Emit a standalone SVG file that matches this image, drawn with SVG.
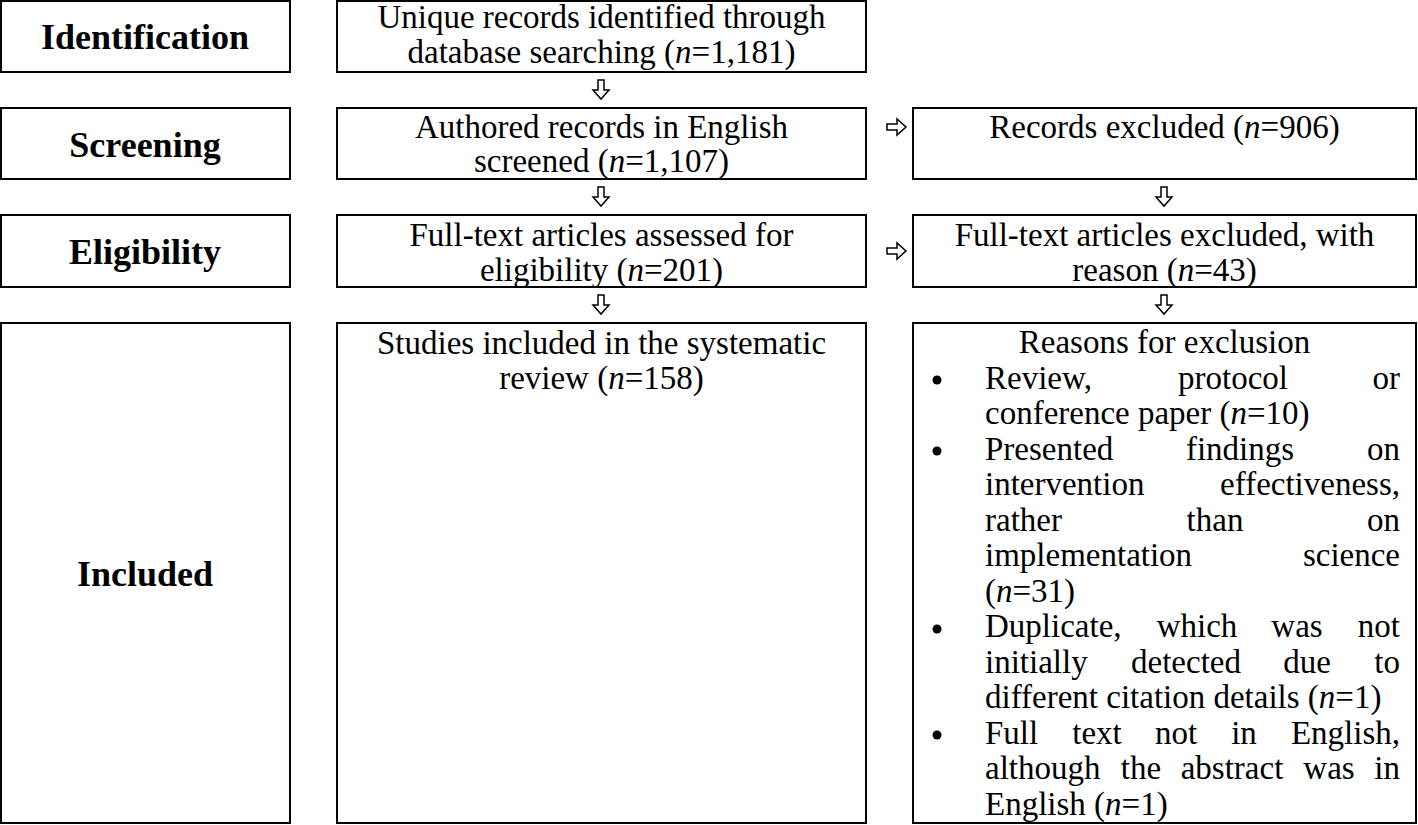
<svg xmlns="http://www.w3.org/2000/svg" width="1418" height="825" viewBox="0 0 1418 825">
<style>
.box{fill:#fff;stroke:#000;stroke-width:2}
text{font-family:"Liberation Serif","Times New Roman",serif;font-size:33px;fill:#000}
.lab{font-weight:bold;font-size:36px;text-anchor:middle}
.c{text-anchor:middle}
.e{text-anchor:end}
.i{font-style:italic}
.arr{fill:#fff;stroke:#000;stroke-width:1.5;stroke-linejoin:miter}
</style>
<defs>
<path id="down" d="M-3,0 H3 V10 H8 L0,19 L-8,10 H-3 Z"/>
<path id="right" d="M0,-3 V3 H10 V8 L19,0 L10,-8 V-3 Z"/>
</defs>
<rect width="1418" height="825" fill="#fff"/>

<g id="label-identification">
<rect class="box" x="1" y="1" width="289" height="71"/>
<text class="lab" x="145" y="49">Identification</text>
</g>
<g id="label-screening">
<rect class="box" x="1" y="108" width="289" height="71"/>
<text class="lab" x="145" y="157">Screening</text>
</g>
<g id="label-eligibility">
<rect class="box" x="1" y="215" width="289" height="72"/>
<text class="lab" x="145" y="264">Eligibility</text>
</g>
<g id="label-included">
<rect class="box" x="1" y="323" width="289" height="500"/>
<text class="lab" x="145" y="586">Included</text>
</g>

<g id="node-identified">
<rect class="box" x="337" y="1" width="529" height="71"/>
<text class="c" x="601.5" y="28">Unique records identified through</text>
<text class="c" x="601.5" y="63">database searching (<tspan class="i">n</tspan>=1,181)</text>
</g>
<g id="node-screened">
<rect class="box" x="337" y="108" width="529" height="71"/>
<text class="c" x="601.5" y="138">Authored records in English</text>
<text class="c" x="601.5" y="172">screened (<tspan class="i">n</tspan>=1,107)</text>
</g>
<g id="node-excluded">
<rect class="box" x="913" y="108" width="503" height="71"/>
<text class="c" x="1164.5" y="138">Records excluded (<tspan class="i">n</tspan>=906)</text>
</g>
<g id="node-assessed">
<rect class="box" x="337" y="215" width="529" height="72"/>
<text class="c" x="601.5" y="246">Full-text articles assessed for</text>
<text class="c" x="601.5" y="281">eligibility (<tspan class="i">n</tspan>=201)</text>
</g>
<g id="node-fulltext-excluded">
<rect class="box" x="913" y="215" width="503" height="72"/>
<text class="c" x="1164.5" y="246">Full-text articles excluded, with</text>
<text class="c" x="1164.5" y="281">reason (<tspan class="i">n</tspan>=43)</text>
</g>
<g id="node-included">
<rect class="box" x="337" y="323" width="529" height="500"/>
<text class="c" x="601.5" y="354">Studies included in the systematic</text>
<text class="c" x="601.5" y="389">review (<tspan class="i">n</tspan>=158)</text>
</g>
<g id="node-reasons">
<rect class="box" x="913" y="323" width="503" height="500"/>
<text class="c" x="1164.5" y="353">Reasons for exclusion</text>
<circle cx="937" cy="380" r="4.5"/>
<text x="985" y="389">Review,</text><text class="c" x="1233" y="389">protocol</text><text class="e" x="1400" y="389">or</text>
<text x="985" y="424">conference paper (<tspan class="i">n</tspan>=10)</text>
<circle cx="937" cy="451" r="4.5"/>
<text x="985" y="460">Presented</text><text class="c" x="1240" y="460">findings</text><text class="e" x="1400" y="460">on</text>
<text x="985" y="495">intervention</text><text class="e" x="1400" y="495">effectiveness,</text>
<text x="985" y="531">rather</text><text class="c" x="1215" y="531">than</text><text class="e" x="1400" y="531">on</text>
<text x="985" y="566">implementation</text><text class="e" x="1400" y="566">science</text>
<text x="985" y="602">(<tspan class="i">n</tspan>=31)</text>
<circle cx="937" cy="629" r="4.5"/>
<text x="985" y="637">Duplicate,</text><text class="c" x="1197" y="637">which</text><text class="c" x="1297" y="637">was</text><text class="e" x="1400" y="637">not</text>
<text x="985" y="673">initially</text><text class="c" x="1186" y="673">detected</text><text class="c" x="1307" y="673">due</text><text class="e" x="1400" y="673">to</text>
<text x="985" y="708">different citation details (<tspan class="i">n</tspan>=1)</text>
<circle cx="937" cy="735" r="4.5"/>
<text x="985" y="744">Full</text><text class="c" x="1097" y="744">text</text><text class="c" x="1176" y="744">not</text><text class="c" x="1244" y="744">in</text><text class="e" x="1400" y="744">English,</text>
<text x="985" y="779">although</text><text class="c" x="1141" y="779">the</text><text class="c" x="1232" y="779">abstract</text><text class="c" x="1329" y="779">was</text><text class="e" x="1400" y="779">in</text>
<text x="985" y="815">English (<tspan class="i">n</tspan>=1)</text>
</g>

<g id="connectors">
<use href="#down" class="arr" x="601" y="80"/>
<use href="#down" class="arr" x="601" y="187"/>
<use href="#down" class="arr" x="601" y="295"/>
<use href="#down" class="arr" x="1164" y="187"/>
<use href="#down" class="arr" x="1164" y="295"/>
<use href="#right" class="arr" x="887" y="127"/>
<use href="#right" class="arr" x="887" y="251"/>
</g>
</svg>
